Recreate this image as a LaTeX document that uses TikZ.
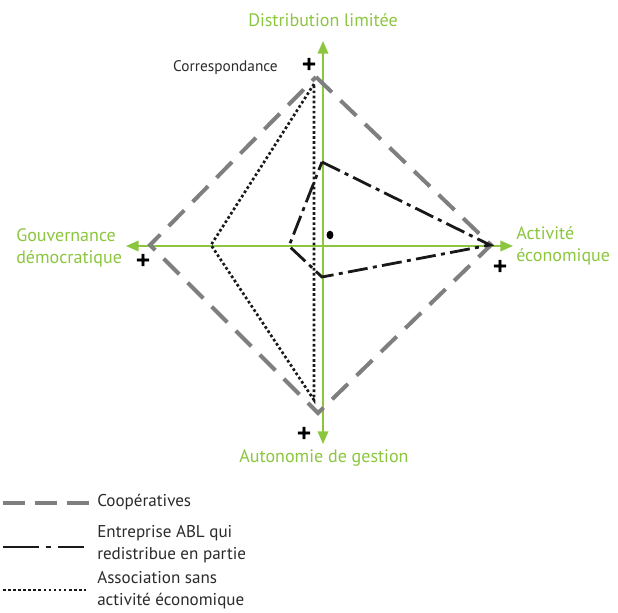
\documentclass[tikz,border=0pt]{standalone}
\usepackage{fontspec}
\setmainfont{PT Sans}
\newfontfamily\plusfont{DejaVu Sans}[FakeBold=3]
\usetikzlibrary{arrows.meta}
\definecolor{axisgreen}{HTML}{8CC63F}
\definecolor{coopgray}{HTML}{7F7F80}
\definecolor{txtgray}{HTML}{2B2B2B}
\begin{document}
\begin{tikzpicture}[x=0.75pt,y=-0.75pt,
  axis/.style={draw=axisgreen, line width=1.1pt, -{Triangle[length=9.5pt,width=8pt]}},
  axislabel/.style={text=axisgreen, font=\fontsize{13.5}{16.5}\selectfont, inner sep=0pt},
  coop/.style={draw=coopgray, line width=3pt, dash pattern=on 16.5pt off 9pt, line join=miter},
  abl/.style={draw=black!90, line width=2.1pt, dash pattern=on 15pt off 4pt on 3pt off 4pt},
  assoc/.style={draw=black!90, line width=2pt, dash pattern=on 2pt off 1.8pt},
  plus/.style={font=\plusfont\bfseries\fontsize{14}{14}\selectfont, inner sep=0pt},
  legtext/.style={text=txtgray, font=\fontsize{12.8}{16.5}\selectfont, anchor=west, align=left, inner sep=0pt}
]
\useasboundingbox (0,0) rectangle (618,613);
% axes
\coordinate (O) at (323,246);
\coordinate (N) at (323,41);
\coordinate (S) at (323,444);
\coordinate (W) at (126,246);
\coordinate (E) at (513,246);
\draw[axis] (O) -- (N);
\draw[axis] (O) -- (S);
\draw[axis] (O) -- (W);
\draw[axis] (O) -- (E);
% cooperatives
\coordinate (c1) at (316,77);
\coordinate (c2) at (491,245);
\coordinate (c3) at (318,413);
\coordinate (c4) at (150,245);
\draw[coop] (c1) -- (c2) -- (c3) -- (c4) -- cycle;
% association
\coordinate (a1) at (314,84);
\coordinate (a2) at (211,245);
\coordinate (a3) at (314,400);
\draw[assoc] (a1) -- (a2) -- (a3) -- cycle;
% entreprise ABL
\coordinate (e1) at (322,162);
\coordinate (e2) at (490,245);
\coordinate (e3) at (322,277);
\coordinate (e4) at (289,246);
\draw[abl] (e1) -- (e2) -- (e3) -- (e4) -- cycle;
% centre dot
\fill[black] (330,235) ellipse [x radius=2.6pt, y radius=3.2pt];
% plus signs
\node[plus] (p1) at (309,64) {+};
\node[plus] (p2) at (143,260) {+};
\node[plus] (p3) at (500,266) {+};
\node[plus] (p4) at (304,433) {+};
% labels
\node[axislabel] (ldist) at (323,20) {Distribution limitée};
\node[axislabel] (lauto) at (324,458) {Autonomie de gestion};
\node[axislabel, anchor=west, align=left] (lgouv) at (16,248) {Gouvernance\\démocratique};
\node[axislabel, anchor=west, align=left] (lact) at (516,246) {Activité\\économique};
\node[text=txtgray, font=\fontsize{11.5}{13}\selectfont, anchor=east, inner sep=0pt] (lcorr) at (278,68) {Correspondance};
% legend
\coordinate (l1a) at (3,503); \coordinate (l1b) at (90,503);
\coordinate (l2a) at (3,547); \coordinate (l2b) at (84,547);
\coordinate (l3a) at (3,590); \coordinate (l3b) at (86,590);
\draw[coop, dash pattern=on 16.5pt off 7.5pt] (l1a) -- (l1b);
\draw[abl, dash pattern=on 27pt off 5pt on 4pt off 5pt] (l2a) -- (l2b);
\draw[assoc] (l3a) -- (l3b);
\node[legtext] (t1) at (97,502) {Coopératives};
\node[legtext] (t2) at (97,544) {Entreprise ABL qui\\redistribue en partie};
\node[legtext] (t3) at (97,590) {Association sans\\activité économique};
\end{tikzpicture}
\end{document}
